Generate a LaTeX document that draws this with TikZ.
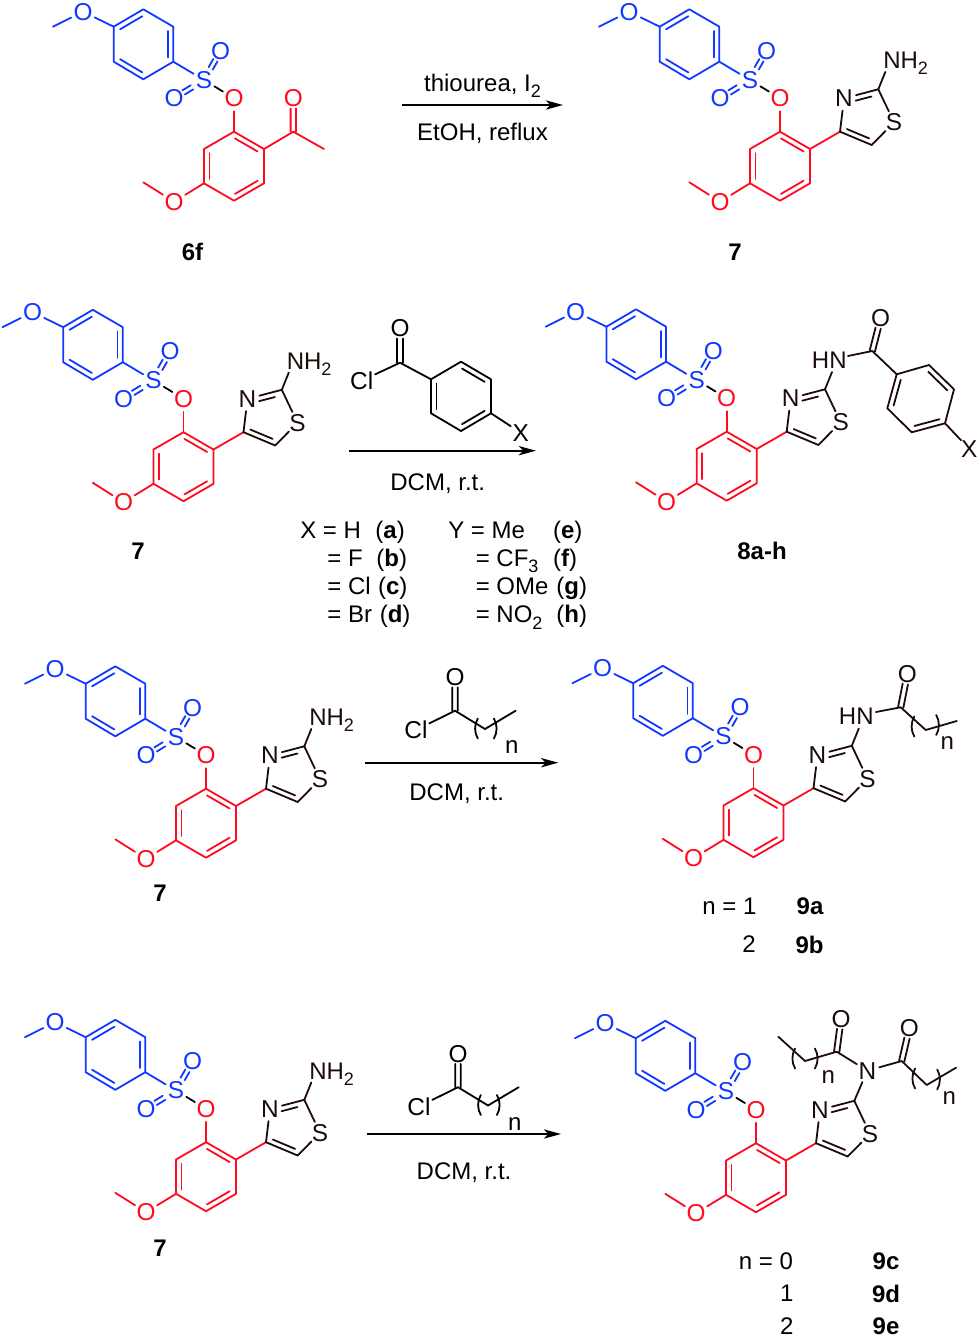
\documentclass[tikz,border=0pt]{standalone}
\usepackage{fontspec}
\setmainfont{Liberation Sans}
\usetikzlibrary{calc,arrows.meta}
\definecolor{cblue}{HTML}{1238FF}
\definecolor{cred}{HTML}{FF0A1E}
\definecolor{cdark}{HTML}{1D0B0B}
\tikzset{
  atom/.style={circle,inner sep=0pt,font=\fontsize{18.3pt}{20pt}\selectfont},
  lab/.style={inner sep=0pt,font=\fontsize{18pt}{20pt}\selectfont},
  blab/.style={inner sep=0pt,font=\fontsize{18pt}{20pt}\selectfont\bfseries},
  bond/.style={line width=1.35pt,line cap=round,line join=round},
  rxn/.style={line width=1.3pt,-{Stealth[length=13pt,width=7pt,inset=3.5pt]}}
}
\newcommand{\subn}[1]{\raisebox{-.27em}{\fontsize{13.5pt}{13.5pt}\selectfont #1}}
% inner line of a ring double bond: atoms, ring centre
\newcommand{\inr}[3]{\draw ($.7872*(#1)+.0328*(#2)+.18*(#3)$) -- ($.0328*(#1)+.7872*(#2)+.18*(#3)$);}
% two parallel lines between a and b from t1 to t2
\newcommand{\dbo}[5]{\draw ($(#1)!#3!(#2)!#5!90:(#2)$) -- ($(#1)!#4!(#2)!#5!90:(#2)$);
  \draw ($(#1)!#3!(#2)!-#5!90:(#2)$) -- ($(#1)!#4!(#2)!-#5!90:(#2)$);}
\newcommand{\parL}[1]{\draw[shift={(#1)}] (1.8,-10) .. controls (-1.8,-4) and (-1.8,4) .. (1.8,10);}
\newcommand{\parR}[1]{\draw[shift={(#1)}] (-1.8,-10) .. controls (1.8,-4) and (1.8,4) .. (-1.8,10);}
% the coloured aryl sulfonate core (local frame of the top right compound)
\newcommand{\core}{%
  \coordinate (Me1) at (599,26.7);
  \coordinate (Ba) at (659.7,26.7); \coordinate (Bb) at (689.3,9.3);
  \coordinate (Bc) at (719.3,26.7); \coordinate (Bd) at (719.3,61.7);
  \coordinate (Be) at (689.3,79.3); \coordinate (Bf) at (659.7,61.7);
  \coordinate (Bz) at (689.5,44.5);
  \coordinate (Ra) at (780,131.7); \coordinate (Rb) at (810,149);
  \coordinate (Rc) at (810,183.3); \coordinate (Rd) at (780,200.7);
  \coordinate (Re) at (750,183.3); \coordinate (Rf) at (750,149);
  \coordinate (Rz) at (780,166);
  \coordinate (Me2) at (689.3,182.3);
  \node[atom,text=cblue] (Om1) at (629,11.7) {O};
  \node[atom,text=cblue] (Su) at (750,80) {S};
  \node[atom,text=cblue] (Ou) at (766.7,51) {O};
  \node[atom,text=cblue] (Ol) at (720,98.3) {O};
  \node[atom,text=cred] (Oe) at (780,98.3) {O};
  \node[atom,text=cred] (Om2) at (720,201.7) {O};
  \begin{scope}[bond,cblue]
    \draw (Me1) -- (Om1); \draw (Om1) -- (Ba);
    \draw (Ba) -- (Bb) -- (Bc) -- (Bd) -- (Be) -- (Bf) -- cycle;
    \inr{Ba}{Bb}{Bz} \inr{Bc}{Bd}{Bz} \inr{Be}{Bf}{Bz}
    \draw (Bd) -- (Su);
    \dbo{Su}{Ou}{.40}{.68}{1.8pt}
    \dbo{Su}{Ol}{.40}{.68}{1.8pt}
  \end{scope}
  \draw[bond,black] (Su) -- (Oe);
  \begin{scope}[bond,cred]
    \draw (Oe) -- (Ra);
    \draw (Ra) -- (Rb) -- (Rc) -- (Rd) -- (Re) -- (Rf) -- cycle;
    \inr{Ra}{Rb}{Rz} \inr{Rc}{Rd}{Rz} \inr{Re}{Rf}{Rz}
    \draw (Re) -- (Om2); \draw (Om2) -- (Me2);
  \end{scope}}
% aminothiazole ring
\newcommand{\thz}{%
  \coordinate (Tc) at (840,131.7); \coordinate (Ta) at (878.3,89.3);
  \coordinate (Tb) at (871.7,145); \coordinate (Tz) at (865.6,117.3);
  \coordinate (Nend) at (885.3,72);
  \node[atom,text=cdark] (Tn) at (844,98.3) {N};
  \node[atom,text=cdark] (Ts) at (894,122.3) {S};
  \draw[bond,cred] (Rb) -- (Tc);
  \begin{scope}[bond,cdark]
    \draw (Tc) -- (Tn); \draw (Tn) -- (Ta); \draw (Ta) -- (Ts); \draw (Ts) -- (Tb);
    \draw (Tb) -- (Tc);
    \draw ($.12*(Tn)+.66*(Ta)+.22*(Tz)$) -- ($.58*(Tn)+.20*(Ta)+.22*(Tz)$);
    \draw ($.74*(Tc)+.04*(Tb)+.22*(Tz)$) -- ($.04*(Tc)+.74*(Tb)+.22*(Tz)$);
  \end{scope}}
\newcommand{\amino}{%
  \node[lab,text=cdark,anchor=base west] (Nh) at (883,68.5) {NH\subn{2}};
  \draw[bond,cdark] (Ta) -- (Nend);}
\begin{document}
\begin{tikzpicture}[x=.75pt,y=-.75pt]
\useasboundingbox (0,0) rectangle (980,1337);
% ---------- row 1
\begin{scope}[shift={(-546,0)},name prefix=sm-]
  \core
  \coordinate (Ac) at (839.3,131.7); \coordinate (Am) at (870,149);
  \node[atom,text=cred] (Ao) at (839.3,98.3) {O};
  \begin{scope}[bond,cred]
    \draw (Rb) -- (Ac) -- (Am);
    \dbo{Ac}{Ao}{0}{.70}{2pt}
  \end{scope}
\end{scope}
\node[blab] (l6f) at (192.5,252) {6f};
\begin{scope}[name prefix=a-]
  \core \thz \amino
\end{scope}
\node[blab] (l7a) at (735,252) {7};
\coordinate (r1s) at (402,105); \coordinate (r1e) at (563,105);
\draw[rxn] (r1s) -- (r1e);
\node[lab] (r1t) at (482.5,86) {thiourea, I\subn{2}};
\node[lab] (r1b) at (482.5,133) {EtOH, reflux};
% ---------- row 2
\begin{scope}[shift={(-596.5,300.5)},name prefix=b-]
  \core \thz \amino
\end{scope}
\node[blab] (l7b) at (138,551) {7};
\begin{scope}[name prefix=r2-]
  \node[atom] (O) at (400,328.3) {O};
  \coordinate (C) at (400,362.7);
  \node[atom] (Cl) at (361.7,380.7) {Cl};
  \coordinate (a) at (431,379.3); \coordinate (b) at (461,361.7);
  \coordinate (c) at (491,379.3); \coordinate (d) at (491,413.3);
  \coordinate (e) at (461,431); \coordinate (f) at (431,413.3);
  \coordinate (z) at (461,396.5);
  \node[atom] (X) at (520.7,432.7) {X};
  \begin{scope}[bond,black]
    \dbo{C}{O}{0}{.70}{2pt}
    \draw (Cl) -- (C) -- (a);
    \draw (a) -- (b) -- (c) -- (d) -- (e) -- (f) -- cycle;
    \inr{f}{a}{z} \inr{b}{c}{z} \inr{d}{e}{z}
    \draw (d) -- (X);
  \end{scope}
\end{scope}
\coordinate (r2s) at (349,450.7); \coordinate (r2e) at (536,450.7);
\draw[rxn] (r2s) -- (r2e);
\node[lab] (r2b) at (437.7,483.5) {DCM, r.t.};
\begin{scope}
  \node[lab,anchor=base west] (t1) at (300,538.4) {X = H};
  \node[lab,anchor=base west] (t1b) at (375.2,538.4) {(\textbf{a})};
  \node[lab,anchor=base west] (t2) at (327.2,566.4) {= F};
  \node[lab,anchor=base west] (t2b) at (376.2,566.4) {(\textbf{b})};
  \node[lab,anchor=base west] (t3) at (327.2,594.7) {= Cl};
  \node[lab,anchor=base west] (t3b) at (377.8,594.7) {(\textbf{c})};
  \node[lab,anchor=base west] (t4) at (327.2,622.7) {= Br};
  \node[lab,anchor=base west] (t4b) at (379.5,622.7) {(\textbf{d})};
  \node[lab,anchor=base west] (u1) at (448,538.4) {Y = Me};
  \node[lab,anchor=base west] (u1b) at (552.8,538.4) {(\textbf{e})};
  \node[lab,anchor=base west] (u2) at (475.5,566.4) {= CF\subn{3}};
  \node[lab,anchor=base west] (u2b) at (552.8,566.4) {(\textbf{f})};
  \node[lab,anchor=base west] (u3) at (475.5,594.7) {= OMe};
  \node[lab,anchor=base west] (u3b) at (556.2,594.7) {(\textbf{g})};
  \node[lab,anchor=base west] (u4) at (475.5,622.7) {= NO\subn{2}};
  \node[lab,anchor=base west] (u4b) at (556.2,622.7) {(\textbf{h})};
\end{scope}
\begin{scope}[shift={(-53.3,300)},name prefix=c-]
  \core \thz
  \coordinate (Nend) at (885.3,72);
  \draw[bond,cdark] (Ta) -- (Nend);
\end{scope}
\begin{scope}[name prefix=c2-]
  \node[lab,text=cdark] (HN) at (829.3,360) {HN};
  \node[atom,text=cdark] (O) at (880.7,318.3) {O};
  \coordinate (Hr) at (848,356);
  \coordinate (C) at (872.3,351);
  \coordinate (a) at (896.7,374.3); \coordinate (b) at (929,365);
  \coordinate (c) at (954,389.3); \coordinate (d) at (945,423.3);
  \coordinate (e) at (911.7,432.3); \coordinate (f) at (887.3,408.3);
  \coordinate (z) at (920.8,398.8);
  \node[atom,text=cdark] (X) at (969.3,449) {X};
  \begin{scope}[bond,cdark]
    \dbo{C}{O}{0}{.70}{2pt}
    \draw (Hr) -- (C) -- (a);
    \draw (a) -- (b) -- (c) -- (d) -- (e) -- (f) -- cycle;
    \inr{f}{a}{z} \inr{b}{c}{z} \inr{d}{e}{z}
    \draw (d) -- (X);
  \end{scope}
\end{scope}
\node[blab] (l8) at (762,551) {8a-h};
% ---------- row 3
\begin{scope}[shift={(-574,657)},name prefix=d-]
  \core \thz \amino
\end{scope}
\node[blab] (l7c) at (160,893) {7};
\begin{scope}[name prefix=r3-]
  \node[atom] (O) at (455,677.3) {O};
  \coordinate (C) at (455,710.7);
  \node[atom] (Cl) at (416,730) {Cl};
  \coordinate (M) at (485,729); \coordinate (E) at (515.7,710.7);
  \begin{scope}[bond,black]
    \dbo{C}{O}{0}{.70}{2pt}
    \draw (Cl) -- (C) -- (M) -- (E);
    \parL{476,728.5} \parR{495.7,728.5}
  \end{scope}
  \node[lab] (n) at (511.7,747.3) {n};
\end{scope}
\coordinate (r3s) at (365,762.7); \coordinate (r3e) at (558.3,762.7);
\draw[rxn] (r3s) -- (r3e);
\node[lab] (r3b) at (456.7,793.5) {DCM, r.t.};
\begin{scope}[shift={(-26.5,656.5)},name prefix=e-]
  \core \thz
  \coordinate (Nend) at (885.3,72);
  \draw[bond,cdark] (Ta) -- (Nend);
\end{scope}
\begin{scope}[name prefix=e2-]
  \node[lab,text=cdark] (HN) at (856.3,716.7) {HN};
  \node[atom,text=cdark] (O) at (907.3,674) {O};
  \coordinate (Hr) at (876,712);
  \coordinate (C) at (900.7,707.3);
  \coordinate (M) at (925.7,730); \coordinate (E) at (956.7,721);
  \begin{scope}[bond,cdark]
    \dbo{C}{O}{0}{.70}{2pt}
    \draw (Hr) -- (C) -- (M) -- (E);
    \parL{912.5,726.5} \parR{938,725}
  \end{scope}
  \node[lab,text=cdark] (n) at (947.3,743.3) {n};
\end{scope}
\node[lab] (n1) at (729.5,906.5) {n = 1};
\node[blab] (l9a) at (810,906.5) {9a};
\node[lab] (n2) at (749,944.5) {2};
\node[blab] (l9b) at (809.5,944.5) {9b};
% ---------- row 4
\begin{scope}[shift={(-574,1010.5)},name prefix=f-]
  \core \thz \amino
\end{scope}
\node[blab] (l7d) at (160,1248) {7};
\begin{scope}[shift={(3,376.5)},name prefix=r4-]
  \node[atom] (O) at (455,677.3) {O};
  \coordinate (C) at (455,710.7);
  \node[atom] (Cl) at (416,730) {Cl};
  \coordinate (M) at (485,729); \coordinate (E) at (515.7,710.7);
  \begin{scope}[bond,black]
    \dbo{C}{O}{0}{.70}{2pt}
    \draw (Cl) -- (C) -- (M) -- (E);
    \parL{476,728.5} \parR{495.7,728.5}
  \end{scope}
  \node[lab] (n) at (511.7,747.3) {n};
\end{scope}
\coordinate (r4s) at (367,1134); \coordinate (r4e) at (561,1134);
\draw[rxn] (r4s) -- (r4e);
\node[lab] (r4b) at (464,1172.5) {DCM, r.t.};
\begin{scope}[shift={(-24,1011.5)},name prefix=g-]
  \core \thz
\end{scope}
\begin{scope}[name prefix=g2-]
  \node[atom,text=cdark] (N) at (867.3,1070.7) {N};
  \node[atom,text=cdark] (O) at (909.3,1028.3) {O};
  \coordinate (C) at (901.7,1061);
  \coordinate (M) at (926.7,1085); \coordinate (E) at (956,1067.7);
  \node[atom,text=cdark] (P) at (841,1019.3) {O};
  \coordinate (D) at (836.7,1051.7);
  \coordinate (K) at (805,1061); \coordinate (L) at (778.3,1036.7);
  \begin{scope}[bond,cdark]
    \draw (g-Ta) -- (N);
    \dbo{C}{O}{0}{.70}{2pt}
    \draw (N) -- (C) -- (M) -- (E);
    \parL{913.3,1078.5} \parR{939,1079.5}
    \dbo{D}{P}{0}{.70}{2pt}
    \draw (N) -- (D) -- (K) -- (L);
    \parL{793.3,1058.5} \parR{816.7,1058.5}
  \end{scope}
  \node[lab,text=cdark] (n) at (949.3,1098.3) {n};
  \node[lab,text=cdark] (m) at (828.3,1077.3) {n};
\end{scope}
\node[lab] (n3) at (766,1261.5) {n = 0};
\node[blab] (l9c) at (886,1261.5) {9c};
\node[lab] (n4) at (786.7,1293.5) {1};
\node[blab] (l9d) at (886,1293.5) {9d};
\node[lab] (n5) at (786.7,1326) {2};
\node[blab] (l9e) at (886,1326) {9e};
\end{tikzpicture}
\end{document}
